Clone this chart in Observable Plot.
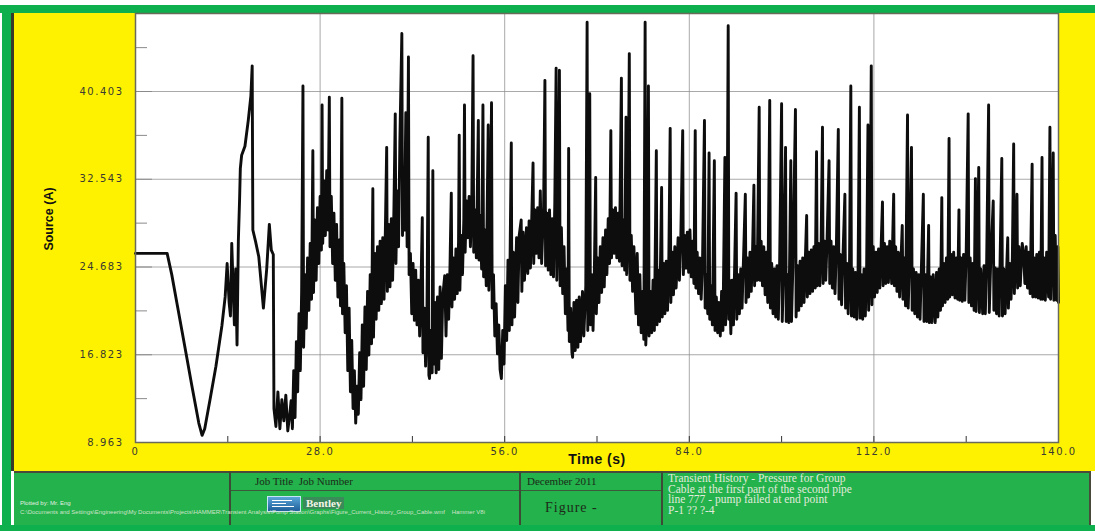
<!DOCTYPE html>
<html><head><meta charset="utf-8">
<script src="https://cdn.jsdelivr.net/npm/d3@7"></script>
<script src="https://cdn.jsdelivr.net/npm/@observablehq/plot@0.6"></script>
<style>
html,body{margin:0;padding:0;background:#fff;}
#page{position:relative;width:1095px;height:531px;overflow:hidden;background:#fff;font-family:"Liberation Sans",Arial,sans-serif;}
#greenTop{position:absolute;left:0;top:5px;width:1095px;height:8px;background:#0db04c;}
#greenLeft{position:absolute;left:2px;top:5px;width:9px;height:526px;background:#0db04c;}
#greenBottom{position:absolute;left:0;top:525px;width:1095px;height:6px;background:#0db04c;}
#yellow{position:absolute;left:11px;top:13px;width:1084px;height:458px;background:#fff200;border-left:3px solid #3a3a2a;box-sizing:border-box;}
#chart{position:absolute;left:14px;top:12px;}
#ylab{position:absolute;left:49px;top:219px;transform:translate(-50%,-50%) rotate(-90deg);font-weight:bold;font-size:12.5px;color:#111;white-space:nowrap;font-family:"Liberation Sans Narrow","Liberation Sans",sans-serif;}
#xlab{position:absolute;left:597px;top:459px;transform:translate(-50%,-50%);font-weight:bold;font-size:14px;color:#111;letter-spacing:0.5px;white-space:nowrap;}
#panel{position:absolute;left:14px;top:471px;width:1077px;height:54px;background:#23b24c;border-top:2px solid #4a4a3a;border-right:2px solid #4a4a3a;box-sizing:border-box;}
.vdiv{position:absolute;top:471px;width:2px;height:54px;background:#3c4a36;}
.hdiv{position:absolute;height:1px;background:#3c5a3a;}
.ptxt{position:absolute;color:#e6efe0;white-space:nowrap;font-family:"Liberation Serif","Times New Roman",serif;}
#logo{position:absolute;left:267px;top:496px;width:32px;height:14px;background:linear-gradient(#5aa6d8,#1f5f9a);border:1px solid #c8e6f8;}
#logo i{position:absolute;left:4px;height:1px;background:#fff;}
#bentley{position:absolute;left:303px;top:497px;font-size:11px;font-weight:bold;color:#f4f4e8;background:#3a8a5a;padding:0 3px;font-family:"Liberation Serif",serif;}
</style></head>
<body><div id="page">
<div id="greenTop"></div><div id="greenLeft"></div><div id="greenBottom"></div>
<div id="yellow"></div>
<div id="chart"></div>
<div id="ylab">Source (A)</div>
<div id="xlab">Time (s)</div>
<div id="panel"></div>
<div class="vdiv" style="left:229px"></div>
<div class="vdiv" style="left:519px"></div>
<div class="vdiv" style="left:661px"></div>
<div class="hdiv" style="left:231px;top:490px;width:288px"></div>
<div class="hdiv" style="left:521px;top:490px;width:140px"></div>
<div class="ptxt" style="left:255px;top:475px;font-size:11px;color:#1d2a18">Job Title&nbsp;&nbsp;Job Number</div>
<div id="logo"><i style="top:3px;width:20px"></i><i style="top:6px;width:14px"></i><i style="top:9px;width:22px"></i></div>
<div id="bentley">Bentley</div>
<div class="ptxt" style="left:527px;top:475px;font-size:11px;color:#1d2a18">December 2011</div>
<div class="ptxt" style="left:545px;top:500px;font-size:14px;color:#1d2a18;letter-spacing:1px">Figure -</div>
<div class="ptxt" style="left:20px;top:500px;font-size:6px;font-family:'Liberation Sans',sans-serif">Plotted by: Mr. Eng</div>
<div class="ptxt" style="left:20px;top:509px;font-size:6px;font-family:'Liberation Sans',sans-serif;color:#cfe3c8">C:\Documents and Settings\Engineering\My Documents\Projects\HAMMER\Transient Analysis\Pump Station\Graphs\Figure_Current_History_Group_Cable.wmf&nbsp;&nbsp;&nbsp;&nbsp;Hammer V8i</div>
<div class="ptxt" style="left:668px;top:473px;font-size:11.5px;line-height:10.5px;color:#e2ebdc">Transient History - Pressure for Group<br>Cable at the first part of the second pipe<br>line 777 - pump failed at end point<br>P-1 ?? ?-4</div>
</div>
<script>
// Axis ticks and labels
const yMajorTicks = [8.963, 16.823, 24.683, 32.543, 40.403];
const yTickLabels = ["8.963", "16.823", "24.683", "32.543", "40.403"];
const yMinorTicks = [12.893, 20.753, 28.613, 36.473, 44.333];
const xMajorTicks = [0, 28, 56, 84, 112, 140];
const xTickLabels = ["0", "28.0", "56.0", "84.0", "112.0", "140.0"];
const xMinorTicks = [14, 42, 70, 98, 126];

// Series: [time (s), current (A)]
const startup = [[0,25.9],[4.8,25.9],[5.5,24.0],[6.3,21.4],[7.1,18.8],[7.8,16.5],[8.5,14.2],[9.1,12.3],[9.6,10.7],[10.1,9.6],[10.5,10.2],[11.3,12.8],[12.2,15.8],[13.1,19.4],[13.6,22.0],[13.9,25.0],[14.2,21.5],[14.4,20.3],[14.6,26.8],[14.8,23.0],[15.0,19.5],[15.2,24.5],[15.4,17.7],[15.6,27.0],[15.8,31.0],[15.9,33.5],[16.1,34.7],[16.6,35.5],[17.1,37.8],[17.5,40.0],[17.7,42.7],[17.8,28.0],[18.2,27.0],[18.7,25.6],[19.1,23.0],[19.4,21.0],[19.9,24.5],[20.3,28.5],[20.6,26.2],[20.9,25.8],[21.0,12.0],[21.3,10.4],[21.6,13.5],[21.9,10.2],[22.2,12.8],[22.5,10.9],[22.8,13.2],[23.1,10.0],[23.4,11.5]];

const cycle1 = [[23.6,12.7],[23.8,10.2],[24.0,15.4],[24.2,11.2],[24.4,18.0],[24.6,13.5],[24.8,20.5],[25.0,15.4],[25.2,22.5],[25.4,40.9],[25.5,17.5],[25.7,24.0],[25.9,19.2],[26.1,25.5],[26.3,20.8],[26.5,26.8],[26.7,21.8],[26.9,35.1],[27.0,22.4],[27.2,28.9],[27.4,23.5],[27.6,30.0],[27.8,25.0],[28.0,31.0],[28.2,26.2],[28.3,39.2],[28.4,26.8],[28.6,32.4],[28.8,27.5],[29.0,33.3],[29.2,28.0],[29.4,39.9],[29.5,26.5],[29.7,31.0],[29.9,25.0],[30.1,29.5],[30.3,23.5],[30.5,28.5],[30.7,22.0],[30.9,27.1],[31.1,21.2],[31.3,39.8],[31.4,20.5],[31.6,25.0],[31.8,18.8],[32.0,23.0],[32.2,15.4],[32.4,21.0],[32.6,13.5],[32.8,18.1],[33.0,12.0],[33.2,15.4],[33.4,10.7]];

const cycle2 = [[33.6,14.0],[33.8,11.5],[34.0,17.0],[34.2,12.8],[34.4,19.5],[34.6,14.0],[34.8,21.1],[35.0,15.5],[35.2,22.5],[35.4,16.8],[35.6,24.0],[35.8,17.8],[36.0,31.7],[36.1,18.4],[36.3,25.9],[36.5,20.0],[36.7,26.5],[36.9,20.8],[37.1,27.0],[37.3,21.4],[37.5,27.3],[37.7,21.8],[37.9,28.0],[38.1,35.4],[38.2,22.5],[38.4,28.5],[38.6,22.9],[38.8,29.0],[39.0,23.5],[39.2,30.0],[39.4,38.4],[39.5,25.0],[39.7,31.5],[39.9,26.5],[40.1,36.0],[40.4,45.6],[40.5,27.5],[40.6,33.0],[40.8,28.0],[41.0,38.5],[41.2,26.5],[41.4,43.5],[41.5,24.0],[41.7,25.9],[41.9,20.5],[42.1,25.0],[42.3,19.9],[42.5,24.4],[42.7,19.5],[42.9,23.5],[43.1,18.5],[43.3,22.9],[43.5,29.1],[43.6,17.0],[43.8,21.0],[44.0,15.8],[44.2,19.9],[44.4,36.3],[44.5,15.0],[44.6,14.7]];

const cycle3 = [[44.8,19.0],[45.0,15.2],[45.1,33.3],[45.2,16.0],[45.4,21.5],[45.6,15.2],[45.8,22.0],[46.0,15.5],[46.2,22.9],[46.4,16.5],[46.6,22.0],[46.9,23.9],[47.1,18.5],[47.3,24.0],[47.5,20.0],[47.7,24.7],[47.9,31.3],[48.0,21.1],[48.2,25.5],[48.4,21.8],[48.6,26.3],[48.8,22.3],[49.0,27.0],[49.1,36.5],[49.2,22.6],[49.4,27.5],[49.6,24.0],[49.8,29.0],[49.9,39.2],[50.0,26.0],[50.2,30.6],[50.4,27.3],[50.6,31.0],[50.8,26.5],[51.0,30.0],[51.2,43.6],[51.3,26.0],[51.5,29.8],[51.7,25.5],[52.0,37.8],[52.1,25.3],[52.3,29.3],[52.5,24.5],[52.7,39.2],[52.8,23.8],[53.0,28.0],[53.2,23.0],[53.5,37.4],[53.6,22.6],[53.8,26.2],[54.0,39.4],[54.1,21.0],[54.3,24.0],[54.5,18.5],[54.7,21.4],[54.9,16.9],[55.1,19.5],[55.3,15.5],[55.5,14.7]];

const cycle4 = [[55.7,19.0],[55.9,16.0],[56.1,23.0],[56.3,18.1],[56.5,25.3],[56.7,19.0],[57.0,35.8],[57.1,19.5],[57.3,26.0],[57.5,20.2],[57.8,27.3],[58.0,21.5],[58.2,27.5],[58.5,28.9],[58.6,22.5],[58.8,27.8],[59.0,23.5],[59.3,28.2],[59.5,24.1],[59.7,28.8],[59.9,24.6],[60.1,29.0],[60.3,34.0],[60.4,25.0],[60.6,29.8],[60.8,25.9],[61.0,30.0],[61.2,25.5],[61.4,31.5],[61.6,25.0],[61.9,30.0],[62.1,41.4],[62.2,24.8],[62.4,29.5],[62.6,24.4],[62.8,29.8],[63.0,24.0],[63.2,29.0],[63.4,23.8],[63.6,30.5],[63.8,42.5],[63.9,23.5],[64.1,28.5],[64.3,42.3],[64.4,23.0],[64.6,28.2],[64.8,22.3],[65.0,26.5],[65.2,20.5],[65.4,24.5],[65.6,19.0],[65.7,35.3],[65.8,18.0],[66.0,21.0],[66.2,17.0],[66.3,16.6]];

const cycle5 = [[66.5,21.5],[66.7,17.2],[66.9,21.7],[67.1,17.5],[67.3,22.0],[67.5,18.0],[67.8,22.5],[68.0,18.5],[68.3,23.0],[68.5,46.6],[68.6,19.0],[68.9,40.2],[69.0,19.5],[69.2,24.0],[69.4,19.0],[69.6,24.4],[69.8,32.7],[69.9,20.5],[70.1,25.5],[70.3,21.5],[70.5,26.5],[70.7,22.4],[70.9,27.3],[71.1,22.9],[71.3,28.0],[71.5,24.0],[71.7,29.0],[71.9,25.0],[72.1,36.9],[72.2,25.5],[72.4,29.8],[72.6,25.9],[72.8,30.0],[73.0,25.5],[73.2,29.5],[73.4,25.2],[73.7,41.6],[73.8,24.8],[74.0,28.9],[74.2,24.4],[74.4,38.1],[74.5,24.0],[74.7,28.5],[74.9,43.8],[75.0,23.5],[75.2,27.5],[75.4,22.5],[75.6,26.5],[75.9,20.5],[76.1,25.9],[76.3,19.5],[76.5,24.0],[76.7,18.8],[76.9,22.5],[77.1,18.2],[77.3,46.6],[77.4,17.7],[77.6,21.0],[77.8,40.9]];

const cycle6 = [[77.9,18.5],[78.1,22.5],[78.3,18.8],[78.5,23.5],[78.7,19.0],[79.0,35.1],[79.1,19.5],[79.3,24.4],[79.5,19.8],[79.8,31.8],[79.9,20.2],[80.1,25.0],[80.3,20.5],[80.5,25.2],[80.7,20.8],[80.9,25.7],[81.1,37.1],[81.2,21.5],[81.4,26.0],[81.6,22.2],[81.8,26.5],[82.0,22.8],[82.3,27.3],[82.5,23.5],[82.7,27.0],[83.0,36.9],[83.1,24.0],[83.3,27.5],[83.5,24.6],[83.7,27.8],[83.9,24.2],[84.1,28.0],[84.3,23.8],[84.5,27.0],[84.7,23.2],[84.9,36.9],[85.0,22.8],[85.2,26.0],[85.4,22.3],[85.6,25.5],[85.8,21.8],[86.0,25.0],[86.3,37.8],[86.4,21.0],[86.6,24.0],[86.8,20.5],[87.0,34.9],[87.1,20.0],[87.3,23.0],[87.5,19.5],[87.8,34.2],[87.9,19.0],[88.1,22.0],[88.3,18.8],[88.5,21.5],[88.7,18.5],[88.9,22.5],[89.1,19.0],[89.4,34.5],[89.5,19.5],[89.7,23.0],[89.9,46.3],[90.0,20.0],[90.1,23.5],[90.3,18.7]];

const tail = [[90.5,23.5],[90.7,19.5],[91.1,31.3],[91.2,20.0],[91.4,24.0],[91.6,20.5],[91.8,24.5],[92.0,21.0],[92.2,25.0],[92.5,31.2],[92.6,21.5],[92.8,25.5],[93.0,22.0],[93.2,26.0],[93.4,22.5],[93.6,26.2],[93.8,32.0],[93.9,23.0],[94.1,26.5],[94.3,23.5],[94.6,39.0],[94.7,23.5],[94.9,27.0],[95.1,23.0],[95.3,26.5],[95.5,22.2],[95.7,26.0],[95.9,21.5],[96.2,39.6],[96.3,21.0],[96.5,25.0],[96.7,20.5],[96.9,24.5],[97.1,20.2],[97.3,24.8],[97.5,20.0],[97.7,25.0],[98.0,39.3],[98.1,19.8],[98.3,24.5],[98.6,35.4],[98.7,19.8],[98.9,24.0],[99.1,19.7],[99.4,34.2],[99.5,19.8],[99.7,24.5],[100.1,38.8],[100.2,20.2],[100.4,24.8],[100.6,20.8],[100.8,25.2],[101.0,21.2],[101.2,25.5],[101.4,21.5],[101.8,29.3],[101.9,22.0],[102.1,26.0],[102.3,22.3],[102.5,26.2],[102.7,22.5],[102.9,26.5],[103.1,22.8],[103.3,35.0],[103.4,23.0],[103.6,26.8],[103.8,23.0],[104.0,27.0],[104.2,37.2],[104.3,23.2],[104.5,27.0],[104.7,23.5],[104.9,27.2],[105.2,34.2],[105.3,23.2],[105.5,27.0],[105.7,22.8],[105.9,26.5],[106.1,22.3],[106.3,26.2],[106.6,37.0],[106.7,21.8],[106.9,25.8],[107.1,21.3],[107.3,25.5],[107.6,31.2],[107.7,21.0],[107.9,25.0],[108.1,20.5],[108.3,24.8],[108.5,40.9],[108.6,20.3],[108.8,24.5],[109.0,20.2],[109.2,24.2],[109.4,20.0],[109.6,24.5],[109.8,39.0],[109.9,20.1],[110.1,24.0],[110.3,20.0],[110.5,24.5],[110.7,20.3],[110.9,24.8],[111.1,37.4],[111.2,20.8],[111.4,25.0],[111.6,42.7],[111.7,21.3],[111.9,26.5],[112.1,22.0],[112.3,26.0],[112.5,22.4],[112.7,26.3],[112.9,22.8],[113.3,30.5],[113.4,23.0],[113.6,26.8],[113.8,23.2],[114.0,26.5],[114.2,23.3],[114.4,27.0],[114.7,23.2],[115.0,31.2],[115.1,23.0],[115.3,26.5],[115.5,22.5],[115.7,26.0],[115.9,22.0],[116.3,28.4],[116.4,21.8],[116.6,25.5],[116.8,21.2],[117.1,38.3],[117.2,21.0],[117.4,25.0],[117.7,35.4],[117.8,20.8],[118.0,24.5],[118.2,20.5],[118.4,24.2],[118.6,20.2],[118.8,24.0],[119.0,20.0],[119.2,24.5],[119.5,31.2],[119.6,19.8],[119.8,24.0],[120.0,19.8],[120.3,28.4],[120.4,19.7],[120.6,23.8],[120.8,19.7],[121.0,24.0],[121.3,19.7],[121.5,24.2],[121.7,20.2],[121.9,24.5],[122.1,20.8],[122.3,30.9],[122.4,21.2],[122.6,25.0],[122.8,21.5],[123.0,25.5],[123.2,21.8],[123.4,36.2],[123.5,22.0],[123.7,25.8],[123.9,22.2],[124.1,26.0],[124.3,21.9],[124.5,25.5],[124.7,21.8],[124.9,29.8],[125.0,21.7],[125.2,25.5],[125.4,21.6],[125.6,25.8],[125.8,21.7],[126.0,26.0],[126.3,38.4],[126.4,21.5],[126.6,25.5],[126.8,21.2],[127.0,25.0],[127.2,20.8],[127.4,32.6],[127.5,20.7],[127.7,24.8],[127.9,33.6],[128.0,20.6],[128.2,24.5],[128.5,20.5],[128.7,24.8],[128.9,20.5],[129.1,25.0],[129.4,39.2],[129.5,20.6],[129.7,24.8],[130.1,30.6],[130.2,20.8],[130.4,24.6],[130.6,20.5],[130.8,24.5],[131.0,20.3],[131.4,34.4],[131.5,20.3],[131.7,24.5],[131.9,20.5],[132.3,27.3],[132.4,21.0],[132.6,25.0],[132.8,21.8],[133.0,25.5],[133.2,35.7],[133.3,22.3],[133.5,26.0],[133.7,31.2],[133.8,22.8],[134.0,26.5],[134.2,23.0],[134.5,26.8],[134.7,25.9],[134.9,23.2],[135.1,26.5],[135.3,22.8],[135.5,26.0],[135.7,22.3],[136.0,33.9],[136.1,22.0],[136.3,25.5],[136.5,22.0],[136.7,25.8],[136.9,21.9],[137.1,26.0],[137.3,21.8],[137.5,34.5],[137.6,21.8],[137.8,25.5],[138.0,21.7],[138.2,26.0],[138.5,22.0],[138.7,37.2],[138.8,21.8],[139.0,26.5],[139.2,34.9],[139.3,21.7],[139.5,27.5],[139.7,21.7],[139.9,26.5],[140.0,21.5]];

const series = [startup, cycle1, cycle2, cycle3, cycle4, cycle5, cycle6, tail]
  .flat().map(([t, v]) => ({t, v}));

const yLabelOf = new Map(yMajorTicks.map((d, i) => [d, yTickLabels[i]]));
const xLabelOf = new Map(xMajorTicks.map((d, i) => [d, xTickLabels[i]]));

const chart = Plot.plot({
  width: 1081, height: 459,
  marginTop: 1, marginRight: 37, marginBottom: 29, marginLeft: 121,
  style: {background: "transparent", fontFamily: "'DejaVu Sans', sans-serif", fontSize: "10px", color: "#3a3a30", letterSpacing: "1.5px", overflow: "visible"},
  x: {domain: [0, 140]},
  y: {domain: [8.963, 47.39]},
  marks: [
    Plot.frame({fill: "white"}),
    Plot.gridX(xMajorTicks.slice(1, -1), {stroke: "#8c8c8c", strokeOpacity: 0.75}),
    Plot.gridY(yMajorTicks.slice(1), {stroke: "#8c8c8c", strokeOpacity: 0.75}),
    Plot.axisY(yMajorTicks, {tickSize: -17, tickFormat: () => "", stroke: "#8a8a8a", label: null}),
    Plot.axisY(yMinorTicks, {tickSize: -12, tickFormat: () => "", stroke: "#8a8a8a", label: null}),
    Plot.axisY(yMajorTicks, {tickSize: 0, tickPadding: 12, tickFormat: d => yLabelOf.get(d), fill: "#3a3a30", label: null}),
    Plot.axisX(xMinorTicks.concat(xMajorTicks), {tickSize: -6, tickFormat: () => "", stroke: "#333", label: null}),
    Plot.axisX(xMajorTicks, {tickSize: 0, tickPadding: 5, tickFormat: d => xLabelOf.get(d), fill: "#3a3a30", label: null}),
    Plot.line(series, {x: "t", y: "v", stroke: "#0d0d0d", strokeWidth: 2.9}),
    Plot.frame({stroke: "#6a6a5a", strokeWidth: 1.5})
  ]
});
document.getElementById("chart").appendChild(chart);
</script>
</body></html>
